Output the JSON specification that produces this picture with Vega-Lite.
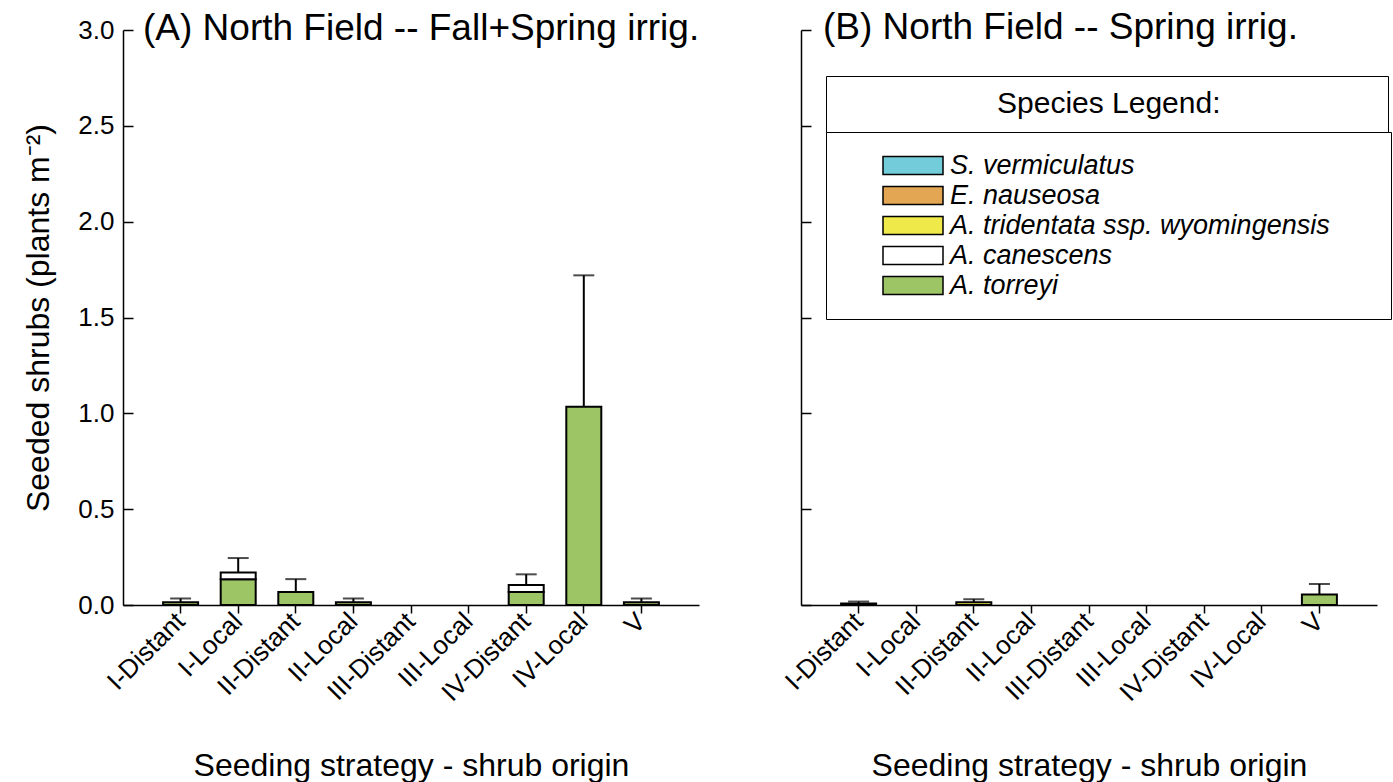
{
  "$schema": "https://vega.github.io/schema/vega-lite/v6.json",
  "padding": {"left": 22, "top": 9, "right": 5, "bottom": 5},
  "datasets": {
    "bars": [
      {"panel": "A", "strategy": "I-Distant", "species": "A. torreyi", "rank": 1, "density": 0.015},
      {"panel": "A", "strategy": "I-Local", "species": "A. torreyi", "rank": 1, "density": 0.135},
      {"panel": "A", "strategy": "I-Local", "species": "A. canescens", "rank": 2, "density": 0.035},
      {"panel": "A", "strategy": "II-Distant", "species": "A. torreyi", "rank": 1, "density": 0.068},
      {"panel": "A", "strategy": "II-Local", "species": "A. torreyi", "rank": 1, "density": 0.015},
      {"panel": "A", "strategy": "IV-Distant", "species": "A. torreyi", "rank": 1, "density": 0.068},
      {"panel": "A", "strategy": "IV-Distant", "species": "A. canescens", "rank": 2, "density": 0.036},
      {"panel": "A", "strategy": "IV-Local", "species": "A. torreyi", "rank": 1, "density": 1.034},
      {"panel": "A", "strategy": "V", "species": "A. torreyi", "rank": 1, "density": 0.015},
      {"panel": "B", "strategy": "I-Distant", "species": "A. torreyi", "rank": 1, "density": 0.008},
      {"panel": "B", "strategy": "II-Distant", "species": "A. tridentata ssp. wyomingensis", "rank": 3, "density": 0.015},
      {"panel": "B", "strategy": "V", "species": "A. torreyi", "rank": 1, "density": 0.055}
    ],
    "errors": [
      {"panel": "A", "strategy": "I-Distant", "total": 0.015, "upper": 0.034},
      {"panel": "A", "strategy": "I-Local", "total": 0.17, "upper": 0.245},
      {"panel": "A", "strategy": "II-Distant", "total": 0.068, "upper": 0.135},
      {"panel": "A", "strategy": "II-Local", "total": 0.015, "upper": 0.034},
      {"panel": "A", "strategy": "IV-Distant", "total": 0.104, "upper": 0.16},
      {"panel": "A", "strategy": "IV-Local", "total": 1.034, "upper": 1.72},
      {"panel": "A", "strategy": "V", "total": 0.015, "upper": 0.034},
      {"panel": "B", "strategy": "I-Distant", "total": 0.008, "upper": 0.018},
      {"panel": "B", "strategy": "II-Distant", "total": 0.015, "upper": 0.03},
      {"panel": "B", "strategy": "V", "total": 0.055, "upper": 0.11}
    ]
  },
  "spacing": 80,
  "resolve": {"scale": {"fill": "independent", "stroke": "independent"}},
  "hconcat": [
    {
      "width": 576,
      "height": 575,
      "title": {"text": "(A) North Field -- Fall+Spring irrig.", "anchor": "start", "frame": "group", "dx": 20, "offset": -49, "baseline": "middle", "fontSize": 37, "fontWeight": "normal", "font": "Liberation Sans", "color": "black"},
      "layer": [
        {
          "data": {"name": "bars"},
          "transform": [{"filter": "datum.panel === 'A'"}],
          "mark": {"type": "bar", "width": 35, "stroke": "black", "strokeWidth": 2},
          "encoding": {
            "x": {"field": "strategy", "type": "nominal", "sort": null,
                  "scale": {"domain": ["I-Distant", "I-Local", "II-Distant", "II-Local", "III-Distant", "III-Local", "IV-Distant", "IV-Local", "V"], "paddingInner": 0, "paddingOuter": 0.5},
                  "axis": {"title": "Seeding strategy - shrub origin", "labelAngle": -45, "labelAlign": "right", "labelBaseline": "middle", "labelFontSize": 26, "titleFontSize": 32, "titleFontWeight": "normal", "tickSize": 8, "labelPadding": 4, "titlePadding": 45}},
            "y": {"field": "density", "type": "quantitative", "stack": "zero",
                  "scale": {"domain": [0, 3], "nice": false},
                  "axis": {"title": "Seeded shrubs (plants m⁻²)", "values": [0, 0.5, 1, 1.5, 2, 2.5, 3], "format": ".1f", "tickSize": -10, "labelPadding": 19, "labelFontSize": 26, "titleFontSize": 32, "titleFontWeight": "normal", "titlePadding": 22}},
            "fill": {"field": "species", "type": "nominal",
                     "scale": {"domain": ["S. vermiculatus", "E. nauseosa", "A. tridentata ssp. wyomingensis", "A. canescens", "A. torreyi"], "range": ["#72CCD9", "#E3A652", "#F0E94A", "#FFFFFF", "#9DC566"]},
                     "legend": null},
            "order": {"field": "rank", "type": "quantitative"}
          }
        },
        {
          "data": {"name": "errors"},
          "transform": [{"filter": "datum.panel === 'A'"}],
          "mark": {"type": "rule", "color": "black", "strokeWidth": 2},
          "encoding": {
            "x": {"field": "strategy", "type": "nominal", "sort": null},
            "y": {"field": "total", "type": "quantitative"},
            "y2": {"field": "upper"}
          }
        },
        {
          "data": {"name": "errors"},
          "transform": [{"filter": "datum.panel === 'A'"}],
          "mark": {"type": "tick", "color": "black", "size": 21, "thickness": 2, "orient": "horizontal"},
          "encoding": {
            "x": {"field": "strategy", "type": "nominal", "sort": null},
            "y": {"field": "upper", "type": "quantitative"}
          }
        }
      ]
    },
    {
      "width": 576,
      "height": 575,
      "title": {"text": "(B) North Field -- Spring irrig.", "anchor": "start", "frame": "group", "dx": 22, "offset": -36, "baseline": "middle", "fontSize": 37, "fontWeight": "normal", "font": "Liberation Sans", "color": "black"},
      "layer": [
        {
          "data": {"name": "bars"},
          "transform": [{"filter": "datum.panel === 'B'"}],
          "mark": {"type": "bar", "width": 35, "stroke": "black", "strokeWidth": 2},
          "encoding": {
            "x": {"field": "strategy", "type": "nominal", "sort": null,
                  "scale": {"domain": ["I-Distant", "I-Local", "II-Distant", "II-Local", "III-Distant", "III-Local", "IV-Distant", "IV-Local", "V"], "paddingInner": 0, "paddingOuter": 0.5},
                  "axis": {"title": "Seeding strategy - shrub origin", "labelAngle": -45, "labelAlign": "right", "labelBaseline": "middle", "labelFontSize": 26, "titleFontSize": 32, "titleFontWeight": "normal", "tickSize": 8, "labelPadding": 4, "titlePadding": 45}},
            "y": {"field": "density", "type": "quantitative", "stack": "zero",
                  "scale": {"domain": [0, 3], "nice": false},
                  "axis": {"title": null, "labels": false, "values": [0, 0.5, 1, 1.5, 2, 2.5, 3], "tickSize": -10}},
            "fill": {"field": "species", "type": "nominal",
                     "scale": {"domain": ["S. vermiculatus", "E. nauseosa", "A. tridentata ssp. wyomingensis", "A. canescens", "A. torreyi"], "range": ["#72CCD9", "#E3A652", "#F0E94A", "#FFFFFF", "#9DC566"]},
                     "legend": {"orient": "none", "legendX": 25, "legendY": 102, "title": null, "labelFontSize": 27, "labelFontStyle": "italic", "labelFont": "Liberation Sans", "labelColor": "black", "labelOffset": 23.5, "labelLimit": 700, "symbolType": "M-2.5,-0.75L2.5,-0.75L2.5,0.75L-2.5,0.75Z M37.9,0", "symbolSize": 576, "symbolStrokeColor": "black", "symbolStrokeWidth": 1.5, "symbolOpacity": 1, "symbolOffset": 53.5, "strokeColor": "black", "fillColor": "white", "padding": 20, "rowPadding": 2}},
            "order": {"field": "rank", "type": "quantitative"}
          }
        },
        {
          "data": {"name": "errors"},
          "transform": [{"filter": "datum.panel === 'B'"}],
          "mark": {"type": "rule", "strokeWidth": 2},
          "encoding": {
            "x": {"field": "strategy", "type": "nominal", "sort": null},
            "y": {"field": "total", "type": "quantitative"},
            "y2": {"field": "upper"},
            "stroke": {"datum": "Species Legend:", "type": "nominal", "scale": {"range": ["black"]},
                       "legend": {"orient": "none", "legendX": 25, "legendY": 46, "title": null, "labelFontSize": 30, "labelFont": "Liberation Sans", "labelColor": "black", "labelOffset": 128, "labelLimit": 800, "symbolType": "M0,0 M521,0", "symbolSize": 4, "symbolStrokeWidth": 0, "symbolOpacity": 0, "strokeColor": "black", "fillColor": "white", "padding": 13}}
          }
        },
        {
          "data": {"name": "errors"},
          "transform": [{"filter": "datum.panel === 'B'"}],
          "mark": {"type": "tick", "color": "black", "size": 21, "thickness": 2, "orient": "horizontal"},
          "encoding": {
            "x": {"field": "strategy", "type": "nominal", "sort": null},
            "y": {"field": "upper", "type": "quantitative"}
          }
        }
      ]
    }
  ],
  "config": {
    "font": "Liberation Sans",
    "view": {"stroke": null},
    "axis": {"grid": false, "domainColor": "black", "domainWidth": 1.5, "tickColor": "black", "tickWidth": 1.5, "labelColor": "black", "titleColor": "black", "labelFont": "Liberation Sans", "titleFont": "Liberation Sans"}
  }
}
